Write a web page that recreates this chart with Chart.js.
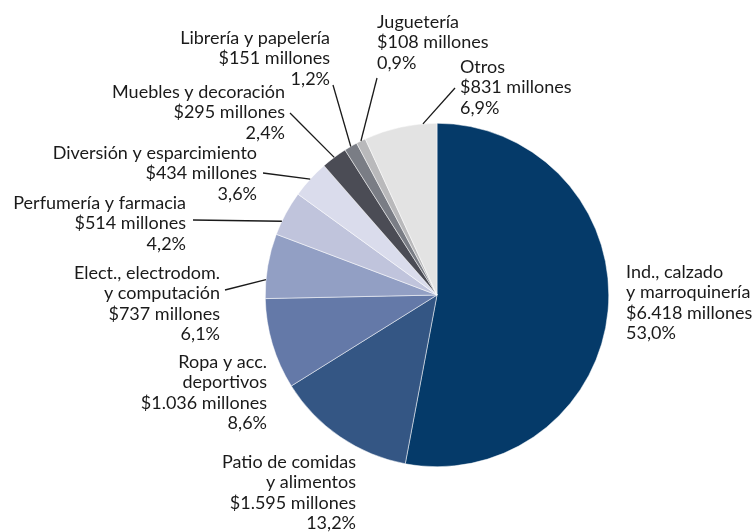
<!DOCTYPE html>
<html>
<head>
<meta charset="utf-8">
<script src="https://cdn.jsdelivr.net/npm/chart.js@4"></script>
<style>
  html, body { margin: 0; padding: 0; background: #fff; }
  #wrap { width: 752px; height: 532px; }
</style>
</head>
<body>
<div id="wrap"><canvas id="chart" width="752" height="532"></canvas></div>
<script>
// rubros, clockwise from 12 o'clock
const rubros = [
    ['Ind., calzado', 'y marroquinería'],
    ['Patio de comidas', 'y alimentos'],
    ['Ropa y acc.', 'deportivos'],
    ['Elect., electrodom.', 'y computación'],
    ['Perfumería y farmacia'],
    ['Diversión y esparcimiento'],
    ['Muebles y decoración'],
    ['Librería y papelería'],
    ['Juguetería'],
    ['Otros']
];
const millones = [6418, 1595, 1036, 737, 514, 434, 295, 151, 108, 831];
const porcentajes = ['53,0%', '13,2%', '8,6%', '6,1%', '4,2%', '3,6%', '2,4%', '1,2%', '0,9%', '6,9%'];

const colores = ['#053a69', '#345684', '#6479a8', '#929fc4', '#c0c4dc',
                 '#dadcec', '#4b4c55', '#7a7d85', '#b9b9bb', '#e3e3e3'];

// where each label sits; lx/ly = start of leader line, frac = where on the slice edge it lands
const etiquetas = [
    { x: 626, y: 272, align: 'left' },
    { x: 356, y: 462, align: 'right' },
    { x: 267, y: 362, align: 'right' },
    { x: 220, y: 273, align: 'right', lx: 225, ly: 290, frac: 0.29 },
    { x: 186, y: 203, align: 'right', lx: 193, ly: 220, frac: 0.31 },
    { x: 257, y: 153, align: 'right', lx: 263, ly: 173, frac: 0.5 },
    { x: 285, y: 92, align: 'right', lx: 290, ly: 113, frac: 0.5 },
    { x: 330, y: 38, align: 'right', lx: 333, ly: 85, frac: 0.5 },
    { x: 377, y: 22, align: 'left', lx: 377, ly: 78, frac: 0.5 },
    { x: 460, y: 67, align: 'left', lx: 455, ly: 88, frac: 0.81 }
];

const FONT = '18px Lato, "Open Sans", sans-serif';
const LINE_H = 20.5;

function monto(v) {
    return '$' + String(v).replace(/\B(?=(\d{3})+(?!\d))/g, '.') + ' millones';
}

const etiquetasPlugin = {
    id: 'etiquetas',
    afterDraw(chart) {
        const ctx = chart.ctx;
        const meta = chart.getDatasetMeta(0);
        ctx.save();
        ctx.font = FONT;
        ctx.fillStyle = '#1a1a1a';
        ctx.textBaseline = 'middle';
        etiquetas.forEach((e, i) => {
            const lines = [...rubros[i], monto(millones[i]), porcentajes[i]];
            ctx.textAlign = e.align;
            lines.forEach((t, j) => ctx.fillText(t, e.x, e.y + j * LINE_H));

            if (e.frac !== undefined) {
                const arc = meta.data[i];
                const p = arc.getProps(['x', 'y', 'startAngle', 'endAngle', 'outerRadius'], true);
                const a = p.startAngle + e.frac * (p.endAngle - p.startAngle);
                const ex = p.x + p.outerRadius * Math.cos(a);
                const ey = p.y + p.outerRadius * Math.sin(a);
                ctx.strokeStyle = '#1a1a1a';
                ctx.lineWidth = 1.3;
                ctx.beginPath();
                ctx.moveTo(e.lx, e.ly);
                ctx.lineTo(ex, ey);
                ctx.stroke();
            }
        });
        ctx.restore();
    }
};

new Chart(document.getElementById('chart'), {
    type: 'pie',
    data: {
        labels: rubros.map(r => r.join(' ')),
        datasets: [{
            data: millones,
            backgroundColor: colores,
            borderColor: '#ffffff',
            borderWidth: 0.5
        }]
    },
    options: {
        responsive: false,
        animation: false,
        layout: { padding: { left: 265, right: 143, top: 123, bottom: 65 } },
        plugins: {
            legend: { display: false },
            tooltip: { enabled: false }
        }
    },
    plugins: [etiquetasPlugin]
});
</script>
</body>
</html>
